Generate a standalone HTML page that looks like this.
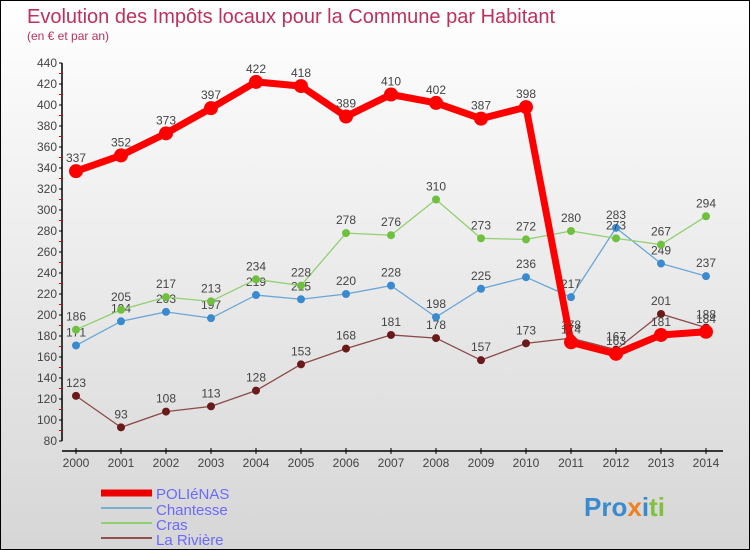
<!DOCTYPE html>
<html><head><meta charset="utf-8"><style>
body{margin:0;}
#c{position:relative;width:748px;height:548px;border:1px solid #000;background:linear-gradient(#fff,#d6d6d6);font-family:"Liberation Sans",sans-serif;overflow:hidden}
</style></head><body>
<div id="c">
<svg id="s" width="748" height="548" xmlns="http://www.w3.org/2000/svg">
<text x="26" y="22" font-size="20" fill="#c0305a">Evolution des Impôts locaux pour la Commune par Habitant</text>
<text x="26" y="39" font-size="12" fill="#c0305a">(en € et par an)</text>
<g id="axes"></g><g id="series"></g>
<g font-size="15" fill="#6a6aff">
<line x1="100" y1="492" x2="151" y2="492" stroke="#e00" stroke-width="7"/>
<text x="155" y="498">POLIéNAS</text>
<line x1="100" y1="507" x2="151" y2="507" stroke="#7aaed0" stroke-width="2"/>
<text x="155" y="514">Chantesse</text>
<line x1="100" y1="522" x2="151" y2="522" stroke="#90d070" stroke-width="2"/>
<text x="155" y="529">Cras</text>
<line x1="100" y1="537" x2="151" y2="537" stroke="#905050" stroke-width="2"/>
<text x="155" y="544">La Rivière</text>
</g>
<text x="583" y="515" font-size="26" font-weight="bold"><tspan fill="#3a8ad0">Pro</tspan><tspan fill="#f08020">x</tspan><tspan fill="#3a8ad0">i</tspan><tspan fill="#80c040">ti</tspan></text>
</svg></div>
<script>
const years=[2000,2001,2002,2003,2004,2005,2006,2007,2008,2009,2010,2011,2012,2013,2014];
const yTicks=[80,100,120,140,160,180,200,220,240,260,280,300,320,340,360,380,400,420,440];
const polienas=[337,352,373,397,422,418,389,410,402,387,398,174,163,181,184];
const chantesse=[171,194,203,197,219,215,220,228,198,225,236,217,283,249,237];
const cras=[186,205,217,213,234,228,278,276,310,273,272,280,273,267,294];
const riviere=[123,93,108,113,128,153,168,181,178,157,173,178,167,201,188];
const NS="http://www.w3.org/2000/svg";
const X=i=>75+i*45, Y=v=>440-(v-80)*1.05;
function mk(t,a,p){const e=document.createElementNS(NS,t);for(const k in a)e.setAttribute(k,a[k]);p.appendChild(e);return e;}
const ax=document.getElementById('axes');
const ya=mk('line',{x1:61,y1:Y(440),x2:61,y2:Y(80),stroke:'#000','stroke-width':1.5},ax);


yTicks.forEach(v=>{
 mk('line',{x1:58,y1:Y(v),x2:61,y2:Y(v),stroke:'#000'},ax);
 if(v<440)mk('line',{x1:58,y1:Y(v+10),x2:61,y2:Y(v+10),stroke:'#e00'},ax);
 const t=mk('text',{x:56,y:Y(v)+4,'font-size':12,'text-anchor':'end',fill:'#444'},ax);t.textContent=v;
 
 
});
const xa=mk('line',{x1:61,y1:450,x2:722,y2:450,stroke:'#000','stroke-width':1.5},ax);


years.forEach((y,i)=>{
 mk('line',{x1:X(i),y1:447,x2:X(i),y2:453,stroke:'#000'},ax);
 const t=mk('text',{x:X(i),y:466,'font-size':12,'text-anchor':'middle',fill:'#444'},ax);t.textContent=y;
 
 
});
const sg=document.getElementById('series');
function series(d,name,col,w,r,dot){
 const g=mk('g',{},sg);
 
 
 mk('polyline',{points:d.map((v,i)=>X(i)+','+Y(v)).join(' '),fill:'none',stroke:col,'stroke-width':w,'stroke-linejoin':'round'},g);
 d.forEach((v,i)=>{
  const c=mk('circle',{cx:X(i),cy:Y(v),r:r,fill:dot},g);
  
  
  const t=mk('text',{x:X(i),y:Y(v)-9,'font-size':12,'text-anchor':'middle',fill:'#444'},g);t.textContent=v;
  
  
 });
}
series(riviere,'la-riviere','#8a4a4a',1.3,4,'#6a1a1a');
series(chantesse,'chantesse','#6aa6d6',1.3,4,'#3a8ad0');
series(cras,'cras','#90d070',1.3,4,'#70c040');
series(polienas,'polienas','#f00',7,7,'#f00');
</script>
</body></html>
